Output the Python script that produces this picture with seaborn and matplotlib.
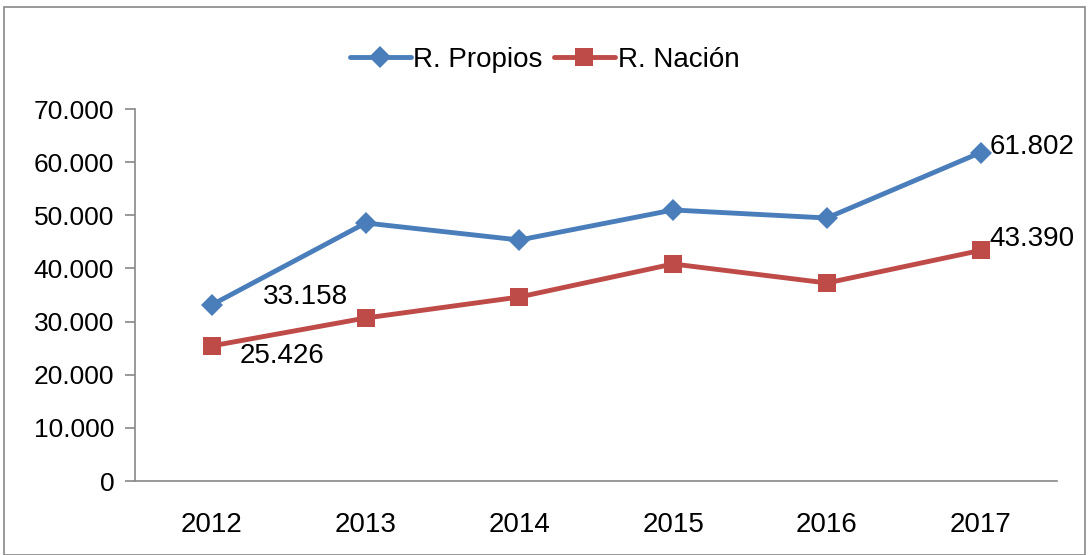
import matplotlib
matplotlib.use("Agg")
import matplotlib.pyplot as plt
import seaborn as sns
import pandas as pd
from matplotlib.patches import Rectangle
from matplotlib.ticker import FuncFormatter, FixedLocator

years = ["2012", "2013", "2014", "2015", "2016", "2017"]
propios = [33158, 48550, 45350, 51000, 49490, 61802]
nacion = [25426, 30670, 34625, 40840, 37260, 43390]
series_names = ["R. Propios", "R. Nación"]

sns.set_style("white")
plt.rcParams['font.family'] = ['Liberation Sans', 'DejaVu Sans']
plt.rcParams['text.color'] = 'black'
plt.rcParams['xtick.color'] = 'black'
plt.rcParams['ytick.color'] = 'black'

df = pd.DataFrame({
    "idx": list(range(len(years))) * 2,
    "valor": propios + nacion,
    "serie": [series_names[0]] * len(years) + [series_names[1]] * len(years),
})

fig = plt.figure(figsize=(10.89, 5.55), dpi=100)
ax = fig.add_axes([0.124, 0.1333, 0.847, 0.6703])

colors = {series_names[0]: "#4A7EBB", series_names[1]: "#BE4B48"}
markers = {series_names[0]: "D", series_names[1]: "s"}
sizes = {series_names[0]: 11, series_names[1]: 13}
for name in series_names:
    sub = df[df.serie == name]
    sns.lineplot(data=sub, x="idx", y="valor", ax=ax, color=colors[name],
                 marker=markers[name], markersize=sizes[name], markeredgewidth=0,
                 linewidth=3.5, label=name)

ax.set_xlim(-0.5, len(years) - 0.5)
ax.set_ylim(0, 70000)
ax.set_yticks(range(0, 70001, 10000))
ax.yaxis.set_major_formatter(FuncFormatter(lambda v, p: f"{int(v):,}".replace(",", ".")))
ax.set_xticks(range(len(years)))
ax.set_xticklabels(years)
ax.xaxis.set_minor_locator(FixedLocator([i - 0.5 for i in range(len(years) + 1)]))
ax.tick_params(axis="x", which="major", length=0, labelsize=20, pad=22, labelcolor="black")
ax.tick_params(axis="x", which="minor", length=8, color="#888888", width=1.2, direction="out")
ax.tick_params(axis="y", length=7, color="#888888", width=1.2, direction="out", labelsize=19,
               pad=8, left=True, labelcolor="black")
ax.set_xlabel("")
ax.set_ylabel("")
for s in ["top", "right"]:
    ax.spines[s].set_visible(False)
for s in ["left", "bottom"]:
    ax.spines[s].set_color("#888888")
    ax.spines[s].set_linewidth(1.2)

def fmt(v):
    return f"{v:,}".replace(",", ".")

lab = dict(fontsize=20, color="black", textcoords="offset pixels", va="center")
ax.annotate(fmt(propios[0]), (0, propios[0]), xytext=(94, 8), ha="center", **lab)
ax.annotate(fmt(nacion[0]), (0, nacion[0]), xytext=(70, -10), ha="center", **lab)
ax.annotate(fmt(propios[-1]), (5, propios[-1]), xytext=(9, 6), ha="left", **lab)
ax.annotate(fmt(nacion[-1]), (5, nacion[-1]), xytext=(9, 11), ha="left", **lab)

leg = ax.legend(loc="center", bbox_to_anchor=(0.5, 0.892), bbox_transform=fig.transFigure,
                ncol=2, frameon=False, fontsize=20, handlelength=2.2, handletextpad=0.1,
                columnspacing=0.4)
for t in leg.get_texts():
    t.set_color("black")

fig.patches.append(Rectangle((4 / 1089, 0.0), 1081 / 1089, 1 - 7 / 555, transform=fig.transFigure,
                             fill=False, edgecolor="#888888", linewidth=1.2))

fig.savefig("out.png", dpi=100)
